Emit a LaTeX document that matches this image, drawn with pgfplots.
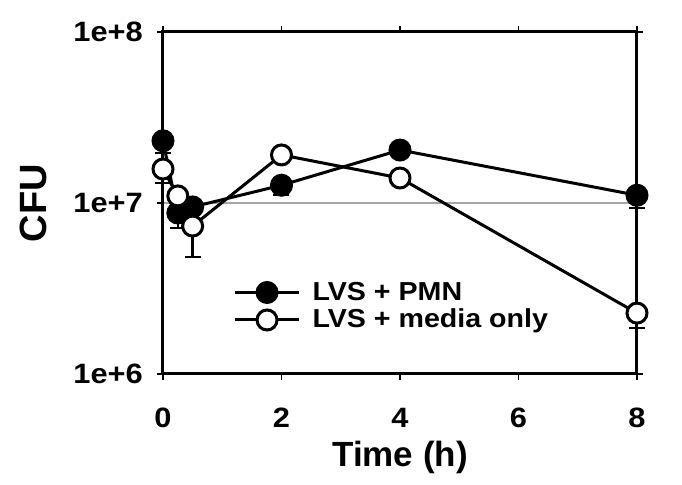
\documentclass[border=0pt]{standalone}
\usepackage{pgfplots}
\pgfplotsset{compat=1.18}
\usepackage{fontspec}
\setmainfont{Liberation Sans}
\newfontfamily\wide{Liberation Sans}[FakeStretch=1.1]

\begin{document}
\begin{tikzpicture}
\begin{axis}[
    at={(0,0)}, anchor=south west,
    scale only axis,
    width=237pt, height=171pt,
    ymode=log,
    xmin=0, xmax=8,
    ymin=1e6, ymax=1e8,
    line width=1.5pt,
    clip=false,
    xtick={0,2,4,6,8},
    xticklabels={0,2,4,6,8},
    ytick={1e6,1e7,1e8},
    yticklabels={1e+6,1e+7,1e+8},
    yminorticks=false,
    tick align=outside,
    major tick length=3pt,
    tick style={line width=0.8pt, black},
    xticklabel style={font=\fontsize{14}{16}\wide\bfseries, yshift=-10pt},
    yticklabel style={font=\fontsize{14}{16}\wide\bfseries, xshift=-3pt},
    ymajorgrids,
    grid style={line width=1pt, gray!70},
    xlabel={Time (h)},
    ylabel={CFU},
    xlabel style={font=\fontsize{17.5}{20}\selectfont\bfseries, yshift=1pt},
    ylabel style={font=\fontsize{19}{22}\selectfont\bfseries, yshift=6pt},
    legend style={draw=none, fill=none, at={(0.133,0.297)}, anchor=north west,
        font=\fontsize{13}{15}\wide\bfseries, row sep=-1pt,
        /tikz/every odd column/.append style={column sep=4pt}},
    legend cell align=left,
    legend image code/.code={\draw[mark repeat=2,mark phase=2] plot coordinates {(0pt,0pt) (16pt,0pt) (32pt,0pt)};},
    error bars/y dir=minus,
    error bars/y explicit,
    error bars/error bar style={line width=1.2pt, black},
    error bars/error mark options={rotate=90, mark size=4pt, line width=1.2pt, black},
]
\addplot[black, line width=1.5pt, mark=*, mark size=5pt,
    mark options={fill=black, draw=black}]
coordinates {
    (0,2.31e7)    +- (0,3.5e6)
    (0.25,8.74e6) +- (0,1.6e6)
    (0.5,9.48e6)  +- (0,0)
    (2,1.27e7)    +- (0,1.6e6)
    (4,2.04e7)    +- (0,0)
    (8,1.11e7)    +- (0,1.75e6)
};
\addlegendentry{LVS + PMN}
\addplot[black, line width=1.5pt, mark=*, mark size=5pt,
    mark options={fill=white, draw=black}]
coordinates {
    (0,1.58e7)    +- (0,2.7e6)
    (0.25,1.10e7) +- (0,0)
    (0.5,7.33e6)  +- (0,2.5e6)
    (2,1.91e7)    +- (0,0)
    (4,1.40e7)    +- (0,0)
    (8,2.27e6)    +- (0,4.1e5)
};
\addlegendentry{LVS + media only}
\end{axis}
\path[use as bounding box] (-81.5pt,-55.5pt) rectangle (259.5pt,187pt);
\end{tikzpicture}
\end{document}
